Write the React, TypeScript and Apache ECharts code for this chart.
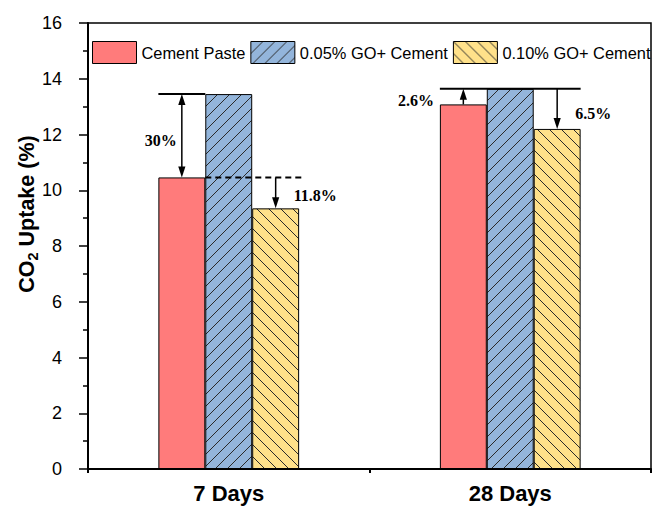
import React, { useEffect, useRef } from 'react';
import * as echarts from 'echarts';

// Carbonation results: CO2 uptake (%) per curing age and mix
const categories = ['7 Days', '28 Days'];
const seriesNames = ['Cement Paste', '0.05% GO+ Cement', '0.10% GO+ Cement'];
const cementPaste = [10.46, 13.08];
const go005Cement = [13.45, 13.64];
const go010Cement = [9.35, 12.2];
// relative change annotations: [7d gain, 7d drop, 28d gain, 28d drop]
const changeLabels = ['30%', '11.8%', '2.6%', '6.5%'];

const SANS = '"Liberation Sans", Arial, sans-serif';
const SERIF = '"Liberation Serif", "Times New Roman", serif';

function hatch(bg: string, forward: boolean) {
  const s = 12;
  const c = document.createElement('canvas');
  c.width = s;
  c.height = s;
  const g = c.getContext('2d') as CanvasRenderingContext2D;
  g.fillStyle = bg;
  g.fillRect(0, 0, s, s);
  g.strokeStyle = '#2a2a2a';
  g.lineWidth = 1;
  g.beginPath();
  for (const o of [-s, 0, s]) {
    if (forward) {
      g.moveTo(o, s);
      g.lineTo(o + s, 0);
    } else {
      g.moveTo(o, 0);
      g.lineTo(o + s, s);
    }
  }
  g.stroke();
  return { image: c.toDataURL(), repeat: 'repeat', imageWidth: s, imageHeight: s } as any;
}

export default function App() {
  const ref = useRef<HTMLDivElement>(null);

  useEffect(() => {
    if (!ref.current) return;
    const chart = echarts.init(ref.current, null, { renderer: 'svg' });

    const barStyle = { borderColor: '#000', borderWidth: 1 };
    const black = { stroke: '#000', lineWidth: 1.5 };

    const arrow = (x: number, yFrom: number, yTo: number, both: boolean) => {
      const L = 11;
      const W = 3.6;
      const dir = Math.sign(yTo - yFrom) || 1;
      const els: any[] = [
        {
          type: 'line',
          shape: { x1: x, y1: both ? yFrom + dir * L * 0.6 : yFrom, x2: x, y2: yTo - dir * L * 0.6 },
          style: black,
        },
        {
          type: 'polygon',
          shape: { points: [[x, yTo], [x - W, yTo - dir * L], [x + W, yTo - dir * L]] },
          style: { fill: '#000' },
        },
      ];
      if (both) {
        els.push({
          type: 'polygon',
          shape: { points: [[x, yFrom], [x - W, yFrom + dir * L], [x + W, yFrom + dir * L]] },
          style: { fill: '#000' },
        });
      }
      return els;
    };

    const label = (text: string, x: number, y: number, align: string) => ({
      type: 'text',
      style: {
        text,
        x,
        y,
        fill: '#000',
        font: `bold 16px ${SERIF}`,
        align,
        textAlign: align,
        verticalAlign: 'middle',
        textVerticalAlign: 'middle',
      },
    });

    const hline = (x1: number, x2: number, y: number, dashed: boolean) => ({
      type: 'line',
      shape: { x1, y1: y, x2, y2: y },
      style: { stroke: '#000', lineWidth: 2, lineDash: dashed ? [6, 4] : null },
    });

    const renderNotes = (params: any, api: any) => {
      const i = params.dataIndex;
      const band = api.size([1, 0])[0];
      const bw = band / 6;
      const cx = api.coord([i, 0])[0];
      const edge = (k: number) => cx + (k - 1.5) * bw;
      const mid = (k: number) => cx + (k - 1) * bw;
      const y = (v: number) => api.coord([i, v])[1];
      const yr = y(cementPaste[i]);
      const yb = y(go005Cement[i]);
      const yy = y(go010Cement[i]);
      let children: any[] = [];
      if (i === 0) {
        children = [
          hline(edge(0), edge(1), yb, false),
          hline(edge(1), edge(3) + 5, yr, true),
          ...arrow(mid(0), yr, yb, true),
          label(changeLabels[0], mid(0) - 5, (yr + yb) / 2 + 5, 'right'),
          ...arrow(mid(2), yr, yy, false),
          label(changeLabels[1], mid(2) + 18, (yr + yy) / 2 + 3, 'left'),
        ];
      } else {
        children = [
          hline(edge(0), edge(3), yb, false),
          ...arrow(mid(0), yr, yb, false),
          label(changeLabels[2], edge(0) - 6, (yr + yb) / 2 + 4, 'right'),
          ...arrow(mid(2), yb, yy, false),
          label(changeLabels[3], mid(2) + 18, (yb + yy) / 2 + 5, 'left'),
        ];
      }
      return { type: 'group', children };
    };

    chart.setOption({
      animation: false,
      grid: {
        left: 88,
        right: 3,
        top: 23,
        bottom: 38,
        outerBoundsMode: 'none',
        containLabel: false,
        show: true,
        borderColor: '#000',
        borderWidth: 1.5,
        backgroundColor: 'transparent',
      },
      legend: {
        data: seriesNames,
        left: 92,
        top: 41,
        width: 600,
        padding: 0,
        itemWidth: 44,
        itemHeight: 22,
        itemGap: 5,
        icon: 'rect',
        itemStyle: { borderColor: '#000', borderWidth: 1 },
        textStyle: { fontSize: 16.4, fontFamily: SANS, color: '#000' },
      },
      xAxis: [
        {
          type: 'category',
          data: categories,
          axisLine: { lineStyle: { color: '#000', width: 2 } },
          axisTick: { alignWithLabel: true, length: 6, lineStyle: { color: '#000', width: 2 } },
          axisLabel: {
            fontSize: 22,
            fontWeight: 'bold',
            fontFamily: SANS,
            color: '#000',
            margin: 13,
          },
          z: 5,
        },
        {
          type: 'value',
          position: 'bottom',
          min: 0,
          max: 2,
          interval: 1,
          axisLine: { show: false },
          axisTick: { show: true, length: 4, lineStyle: { color: '#000', width: 2 } },
          axisLabel: { show: false },
          splitLine: { show: false },
        },
      ],
      yAxis: {
        type: 'value',
        min: 0,
        max: 16,
        interval: 2,
        name: '{a|CO}{s|2}{a| Uptake (%)}',
        nameLocation: 'middle',
        nameGap: 48,
        nameMoveOverlap: false,
        nameTextStyle: {
          padding: [0, 0, 0, 64],
          rich: {
            a: { fontSize: 21.5, fontWeight: 'bold', fontFamily: SANS, color: '#000', lineHeight: 27 },
            s: {
              fontSize: 14.5,
              fontWeight: 'bold',
              fontFamily: SANS,
              color: '#000',
              lineHeight: 27,
              verticalAlign: 'bottom',
            },
          },
        },
        axisLine: { show: true, lineStyle: { color: '#000', width: 2 } },
        axisTick: { show: true, length: 9, lineStyle: { color: '#000', width: 1.5 } },
        minorTick: { show: true, splitNumber: 2, length: 5, lineStyle: { color: '#000', width: 1.5 } },
        axisLabel: { fontSize: 18, fontFamily: SANS, color: '#000', margin: 26 },
        splitLine: { show: false },
        z: 5,
      },
      series: [
        {
          name: seriesNames[0],
          type: 'bar',
          data: cementPaste,
          barGap: '0%',
          barCategoryGap: '50%',
          itemStyle: { color: '#FF7B7B', ...barStyle },
        },
        {
          name: seriesNames[1],
          type: 'bar',
          data: go005Cement,
          barGap: '0%',
          barCategoryGap: '50%',
          itemStyle: { color: hatch('#93B5DB', true), ...barStyle },
        },
        {
          name: seriesNames[2],
          type: 'bar',
          data: go010Cement,
          barGap: '0%',
          barCategoryGap: '50%',
          itemStyle: { color: hatch('#FFE18A', false), ...barStyle },
        },
        {
          name: 'notes',
          type: 'custom',
          data: categories.map((_, i) => [i, go005Cement[i]]),
          renderItem: renderNotes,
          z: 10,
          silent: true,
        },
      ],
    });

    return () => chart.dispose();
  }, []);

  return (
    <div
      ref={ref}
      style={{ position: 'fixed', left: 0, top: 0, width: 654, height: 507, background: '#fff' }}
    />
  );
}
